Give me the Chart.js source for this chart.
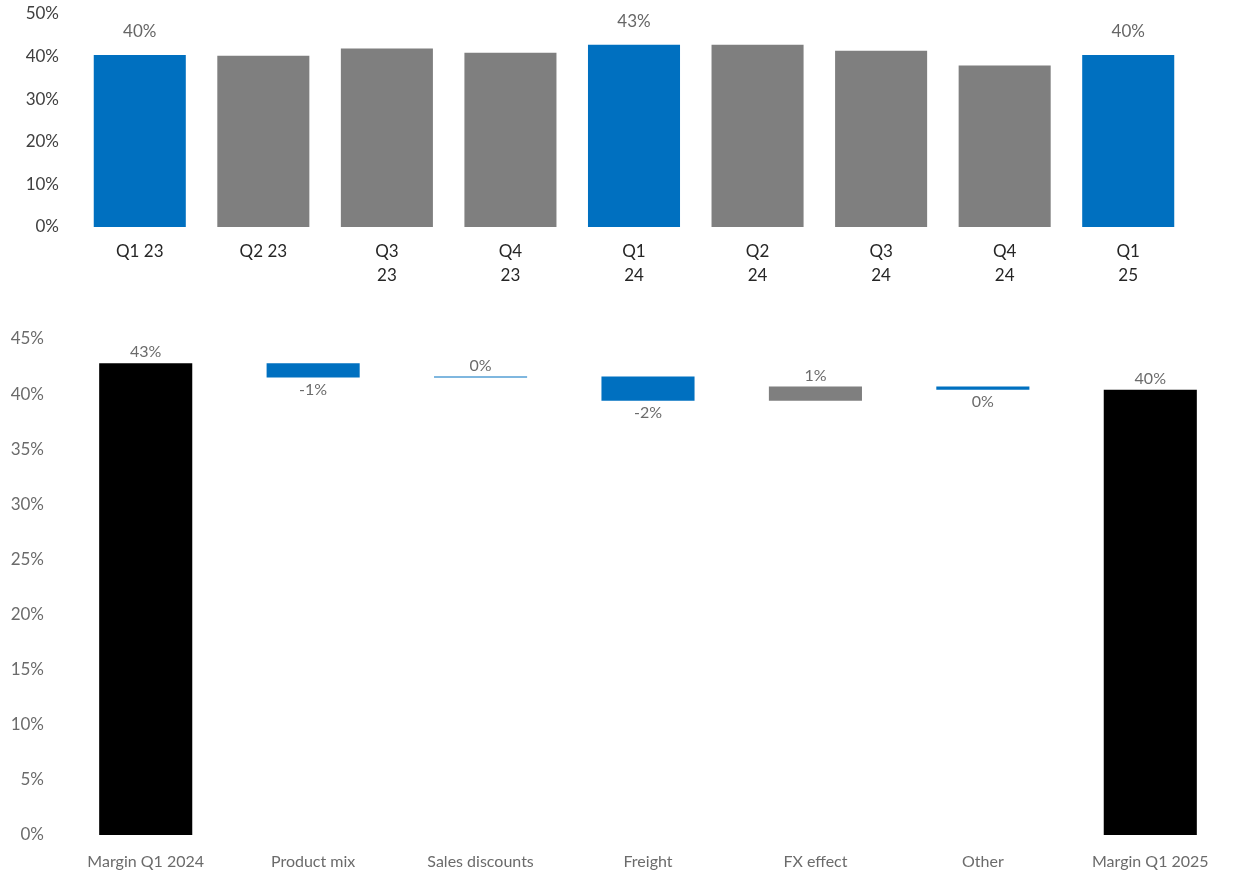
<!DOCTYPE html>
<html lang="en">
<head>
<meta charset="UTF-8">
<title>Gross margin</title>
<script src="https://cdn.jsdelivr.net/npm/chart.js"></script>
<style>
    body { margin: 0; background: #fff; overflow: hidden; }
    #quarterChart { position: absolute; left: 0; top: 0; }
    #bridgeChart { position: absolute; left: 0; top: 311px; }
</style>
</head>
<body>
<canvas id="quarterChart" width="1235" height="300"></canvas>
<canvas id="bridgeChart" width="1235" height="562"></canvas>
<script>
// quarterly gross margin, %
const quarters = ['Q1 23', 'Q2 23', ['Q3', '23'], ['Q4', '23'], ['Q1', '24'], ['Q2', '24'], ['Q3', '24'], ['Q4', '24'], ['Q1', '25']];
const quarterMargin = [40.4, 40.2, 41.9, 40.9, 42.8, 42.8, 41.4, 37.9, 40.4];
const quarterTicks = [0, 10, 20, 30, 40, 50];

// margin bridge Q1 2024 -> Q1 2025, %
const bridgeSteps = ['Margin Q1 2024', 'Product mix', 'Sales discounts', 'Freight', 'FX effect', 'Other', 'Margin Q1 2025'];
const startMargin = 42.8;
const bridgeChanges = [-1.3, 0.1, -2.2, 1.3, -0.3];
const bridgeTicks = [0, 5, 10, 15, 20, 25, 30, 35, 40, 45];

const BLUE = '#0070C0';
const GREY = '#7F7F7F';
const pct = v => (Math.round(v) || 0) + '%';
const isQ1 = l => (Array.isArray(l) ? l[0] : l).startsWith('Q1');

Chart.defaults.font.family = 'Lato, "Noto Sans", sans-serif';
Chart.defaults.animation = false;

// floating bars: totals from zero, steps from running level
let level = startMargin;
const bridgeBars = [[0, startMargin]];
bridgeChanges.forEach(d => {
    bridgeBars.push([level, level + d]);
    level += d;
});
bridgeBars.push([0, level]);
const bridgeColors = ['#000000', BLUE, BLUE, BLUE, GREY, BLUE, '#000000'];

// y axis with fixed width and no extra top/bottom padding from tick labels
const fixYAxis = width => s => {
    s.width = width;
    s.paddingTop = 0;
    s.paddingBottom = 0;
};

const quarterLabels = {
    id: 'quarterLabels',
    afterDatasetsDraw(chart) {
        const ctx = chart.ctx;
        ctx.save();
        ctx.font = '17px Lato, "Noto Sans", sans-serif';
        ctx.fillStyle = '#666666';
        ctx.textAlign = 'center';
        ctx.textBaseline = 'middle';
        chart.getDatasetMeta(0).data.forEach((bar, i) => {
            if (!isQ1(quarters[i])) return;
            ctx.fillText(pct(quarterMargin[i]), bar.x, bar.y - 23);
        });
        ctx.restore();
    }
};

const bridgeLabels = {
    id: 'bridgeLabels',
    afterDatasetsDraw(chart) {
        const ctx = chart.ctx;
        const y = chart.scales.y;
        ctx.save();
        ctx.font = '16px Lato, "Noto Sans", sans-serif';
        ctx.fillStyle = '#6b6b6b';
        ctx.textAlign = 'center';
        ctx.textBaseline = 'middle';
        chart.getDatasetMeta(0).data.forEach((bar, i) => {
            const [lo, hi] = bridgeBars[i];
            const total = i === 0 || i === bridgeBars.length - 1;
            const val = total ? hi : hi - lo;
            if (val >= 0) {
                ctx.fillText(pct(val), bar.x, y.getPixelForValue(Math.max(lo, hi)) - 11);
            } else {
                ctx.fillText(pct(val), bar.x, y.getPixelForValue(Math.min(lo, hi)) + 12);
            }
        });
        ctx.restore();
    }
};

new Chart(document.getElementById('quarterChart'), {
    type: 'bar',
    data: {
        labels: quarters,
        datasets: [{
            data: quarterMargin,
            backgroundColor: quarters.map(q => isQ1(q) ? BLUE : GREY),
            categoryPercentage: 1,
            barPercentage: 0.745
        }]
    },
    options: {
        responsive: false,
        layout: { padding: { top: 14, right: 45, left: 0, bottom: 0 } },
        plugins: { legend: { display: false }, tooltip: { enabled: false } },
        scales: {
            x: {
                grid: { display: false, drawTicks: false },
                border: { display: false },
                ticks: { color: '#262626', padding: 13, font: { size: 17, lineHeight: '24px' } },
                afterFit: s => { s.height = 73; }
            },
            y: {
                min: 0, max: 50,
                grid: { display: false, drawTicks: false },
                border: { display: false },
                afterBuildTicks: s => { s.ticks = quarterTicks.map(v => ({ value: v })); },
                ticks: { color: '#404040', padding: 19, font: { size: 17 }, callback: v => v + '%' },
                afterFit: fixYAxis(78)
            }
        }
    },
    plugins: [quarterLabels]
});

new Chart(document.getElementById('bridgeChart'), {
    type: 'bar',
    data: {
        labels: bridgeSteps,
        datasets: [{
            data: bridgeBars,
            backgroundColor: bridgeColors,
            categoryPercentage: 1,
            barPercentage: 0.556
        }]
    },
    options: {
        responsive: false,
        layout: { padding: { top: 28, right: 1, left: 0, bottom: 0 } },
        plugins: { legend: { display: false }, tooltip: { enabled: false } },
        scales: {
            x: {
                grid: { display: false, drawTicks: false },
                border: { display: false },
                ticks: { color: '#6b6b6b', padding: 17, font: { size: 16, lineHeight: '20px' } },
                afterFit: s => { s.height = 38; }
            },
            y: {
                min: 0, max: 45,
                grid: { display: false, drawTicks: false },
                border: { display: false },
                afterBuildTicks: s => { s.ticks = bridgeTicks.map(v => ({ value: v })); },
                ticks: { color: '#6b6b6b', padding: 18, font: { size: 17 }, callback: v => v + '%' },
                afterFit: fixYAxis(62)
            }
        }
    },
    plugins: [bridgeLabels]
});
</script>
</body>
</html>
